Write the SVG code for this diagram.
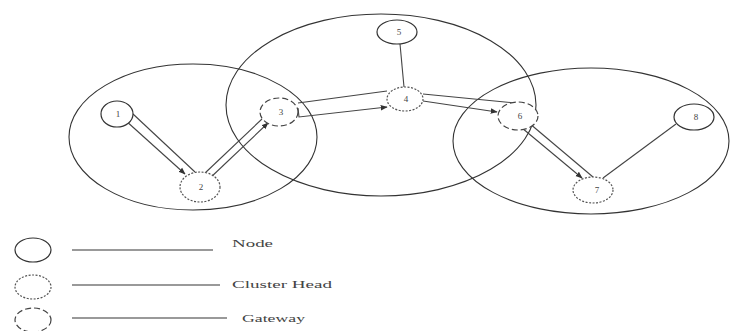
<svg xmlns="http://www.w3.org/2000/svg" width="731" height="331" viewBox="0 0 731 331">
<style>
.cl{fill:none;stroke:#333;stroke-width:1.1}
.n{fill:#fff;stroke:#333;stroke-width:1.2}
.ch{fill:#fff;stroke:#555;stroke-width:1.2;stroke-dasharray:2 1.5}
.gw{fill:#fff;stroke:#444;stroke-width:1.2;stroke-dasharray:6 3}
.t{font-family:"Liberation Serif",serif;font-size:9px;fill:#444;text-anchor:middle}
.e{fill:none;stroke:#444;stroke-width:1.1}
.lg{fill:none;stroke:#777;stroke-width:1.5}
.lt{font-family:"Liberation Serif",serif;font-size:11px;fill:#444}
</style>
<defs>
<marker id="ar" viewBox="0 0 10 10" refX="9" refY="5" markerWidth="7" markerHeight="7" orient="auto" markerUnits="userSpaceOnUse">
<path d="M0,1 L10,5 L0,9 z" fill="#333"/>
</marker>
</defs>
<rect width="731" height="331" fill="#fff"/>
<g id="clusters">
<ellipse class="cl" cx="193" cy="137" rx="124" ry="73"/>
<ellipse class="cl" cx="381" cy="105" rx="155" ry="91"/>
<ellipse class="cl" cx="591" cy="141" rx="138" ry="73"/>
</g>
<g id="connectors">
<line class="e" x1="125" y1="120" x2="185" y2="174" marker-end="url(#ar)"/>
<line class="e" x1="133" y1="114" x2="195" y2="172"/>
<line class="e" x1="204" y1="174" x2="262" y2="119"/>
<line class="e" x1="209" y1="179" x2="268" y2="123" marker-end="url(#ar)"/>
<line class="e" x1="298" y1="103" x2="387" y2="91"/>
<polyline class="e" points="298,108 299,117 387,107" marker-end="url(#ar)"/>
<line class="e" x1="423" y1="94" x2="515" y2="103"/>
<line class="e" x1="423" y1="101" x2="497" y2="112" marker-end="url(#ar)"/>
<line class="e" x1="522" y1="128" x2="582" y2="178" marker-end="url(#ar)"/>
<line class="e" x1="529" y1="123" x2="593" y2="177"/>
<line class="e" x1="400" y1="44" x2="404" y2="87"/>
<line class="e" x1="603" y1="178" x2="676" y2="124"/>
</g>
<g id="node1"><ellipse class="n" cx="117" cy="114" rx="16" ry="13"/><text class="t" x="118" y="117">1</text></g>
<g id="node2"><ellipse class="ch" cx="200" cy="187" rx="20" ry="15"/><text class="t" x="201" y="190">2</text></g>
<g id="node3"><ellipse class="gw" cx="279" cy="112" rx="19" ry="14"/><text class="t" x="281" y="115">3</text></g>
<g id="node4"><ellipse class="ch" cx="405" cy="99" rx="18" ry="12"/><text class="t" x="406" y="102">4</text></g>
<g id="node5"><ellipse class="n" cx="397" cy="32" rx="20" ry="12"/><text class="t" x="399" y="35">5</text></g>
<g id="node6"><ellipse class="gw" cx="518" cy="116" rx="20" ry="14"/><text class="t" x="520" y="119">6</text></g>
<g id="node7"><ellipse class="ch" cx="593" cy="190" rx="20" ry="13"/><text class="t" x="597" y="193">7</text></g>
<g id="node8"><ellipse class="n" cx="694" cy="117" rx="20" ry="13"/><text class="t" x="696" y="120">8</text></g>
<g id="legend">
<ellipse class="n" cx="33" cy="250" rx="18" ry="12"/>
<line class="lg" x1="72" y1="250" x2="213" y2="250"/>
<text class="lt" x="232" y="247" textLength="41" lengthAdjust="spacingAndGlyphs">Node</text>
<ellipse class="ch" cx="33" cy="287" rx="18" ry="12"/>
<line class="lg" x1="72" y1="285" x2="220" y2="285"/>
<text class="lt" x="232" y="288" textLength="100" lengthAdjust="spacingAndGlyphs">Cluster Head</text>
<ellipse class="gw" cx="33" cy="320" rx="18" ry="12"/>
<line class="lg" x1="72" y1="318" x2="227" y2="318"/>
<text class="lt" x="242" y="322" textLength="63" lengthAdjust="spacingAndGlyphs">Gateway</text>
</g>
</svg>
